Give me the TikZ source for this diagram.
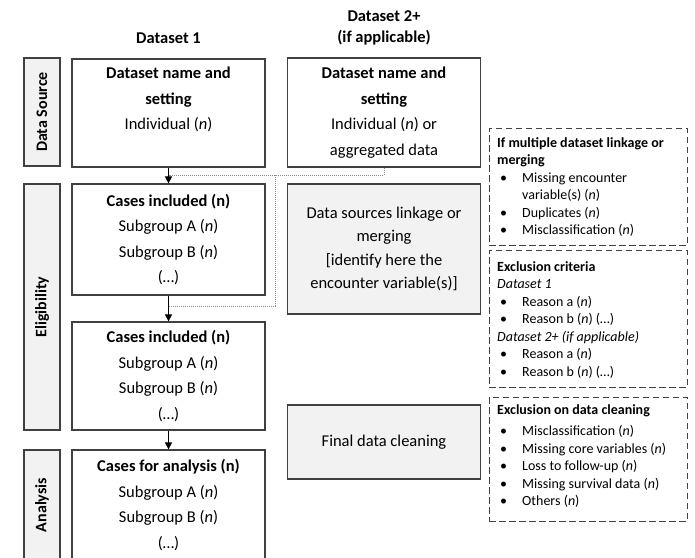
\documentclass[tikz,border=0pt]{standalone}
\usepackage{fontspec}
\setmainfont{Carlito}
\usetikzlibrary{arrows.meta}

\definecolor{frame}{HTML}{404040}
\definecolor{shade}{HTML}{F2F2F2}
\definecolor{dots}{HTML}{8C8C8C}

% bullet lines in the dashed note boxes
\newcommand{\bitem}{\hspace*{3pt}\makebox[22pt][l]{\textbullet}}
\newcommand{\bcont}{\hspace*{25pt}}

\tikzset{
  stage/.style={draw=frame, fill=shade, line width=1.2pt, rotate=90, inner sep=0pt,
    minimum height=36pt, font=\fontsize{16}{18}\selectfont\bfseries},
  box/.style={draw=frame, line width=1.2pt, fill=white, minimum width=193pt, inner sep=0pt,
    align=center, font=\fontsize{16.5}{25.5}\selectfont},
  greybox/.style={box, fill=shade, font=\fontsize{16.5}{23.5}\selectfont},
  head/.style={align=center, inner sep=0pt, font=\fontsize{16.5}{21}\selectfont\bfseries},
  note/.style={draw=frame, line width=1pt, dash pattern=on 6.5pt off 3.5pt,
    minimum width=198pt, inner sep=0pt},
  notetext/.style={anchor=north west, align=left, inner sep=0pt,
    font=\fontsize{14}{17.5}\selectfont},
  flow/.style={-{Triangle[length=7pt,width=7pt]}, line width=1pt},
  link/.style={dots, densely dotted, line width=1pt},
}

\begin{document}
\begin{tikzpicture}[x=1pt, y=-1pt]
  \useasboundingbox (0,0) rectangle (695,557);
  \clip (0,0) rectangle (695,557);

  % column headings
  \node[head] (col1) at (168.5,38) {Dataset 1};
  \node[head] (col2) at (384,27.5) {Dataset 2+\\(if applicable)};

  % stages on the left
  \node[stage, minimum width=108pt] (src) at (42,112) {Data Source};
  \node[stage, minimum width=246pt] (elig) at (42,307) {Eligibility};
  \node[stage, minimum width=110pt] (anal) at (42,505) {Analysis};

  % main flow
  \node[box, minimum height=108pt] (ds1) at (168.5,113)
    {\textbf{Dataset name and}\\\textbf{setting}\\Individual (\textit{n})\\[4pt]\mbox{}};
  \node[box, minimum height=109pt] (ds2) at (384,112.5)
    {\textbf{Dataset name and}\\\textbf{setting}\\Individual (\textit{n}) or\\aggregated data};
  \node[box, minimum height=111pt] (inc1) at (168.5,239.5)
    {\textbf{Cases included (n)}\\Subgroup A (\textit{n})\\Subgroup B (\textit{n})\\(…)};
  \node[greybox, minimum height=130pt] (merge) at (384,249)
    {Data sources linkage or\\merging\\{[}identify here the\\encounter variable(s)]};
  \node[box, minimum height=108pt] (inc2) at (168.5,376)
    {\textbf{Cases included (n)}\\Subgroup A (\textit{n})\\Subgroup B (\textit{n})\\(…)};
  \node[greybox, minimum height=74pt] (clean) at (384,442) {Final data cleaning};
  \node[box, minimum height=110pt] (ana) at (168.5,505)
    {\textbf{Cases for analysis (n)}\\Subgroup A (\textit{n})\\Subgroup B (\textit{n})\\(…)};

  \draw[flow] (ds1.south) -- (inc1.north);
  \draw[flow] (inc1.south) -- (inc2.north);
  \draw[flow] (inc2.south) -- (ana.north);

  % dotted joins from dataset 2
  \coordinate (j1) at (168.5,175);
  \coordinate (j2) at (168.5,306);
  \coordinate (b1) at (275,175);
  \draw[link] (ds2.south) |- (j1);
  \draw[link] (b1) |- (j2);

  % exclusion notes
  \node[note, minimum height=117pt] (multi) at (588,186.5) {};
  \node[notetext] (multitxt) at (497,137)
    {\textbf{If multiple dataset linkage or}\\\textbf{merging}\\
     \bitem Missing encounter\\\bcont variable(s) (\textit{n})\\
     \bitem Duplicates (\textit{n})\\\bitem Misclassification\ (\textit{n})};

  \node[note, minimum height=137pt] (excl) at (588,318.5) {};
  \node[notetext] (excltxt) at (497,261)
    {\textbf{Exclusion\ criteria}\\\textit{Dataset 1}\\
     \bitem Reason a (\textit{n})\\\bitem Reason b (\textit{n}) (…)\\
     \textit{Dataset 2+ (if applicable)}\\
     \bitem Reason a (\textit{n})\\\bitem Reason b (\textit{n}) (…)};

  \node[note, minimum height=124pt] (drop) at (588,459) {};
  \node[notetext] (droptxt) at (497,404)
    {\textbf{Exclusion\ on data cleaning}\\[4pt]
     \bitem Misclassification\ (\textit{n})\\\bitem Missing core variables (\textit{n})\\
     \bitem Loss to follow-up (\textit{n})\\\bitem Missing survival data (\textit{n})\\
     \bitem Others (\textit{n})};
\end{tikzpicture}
\end{document}
